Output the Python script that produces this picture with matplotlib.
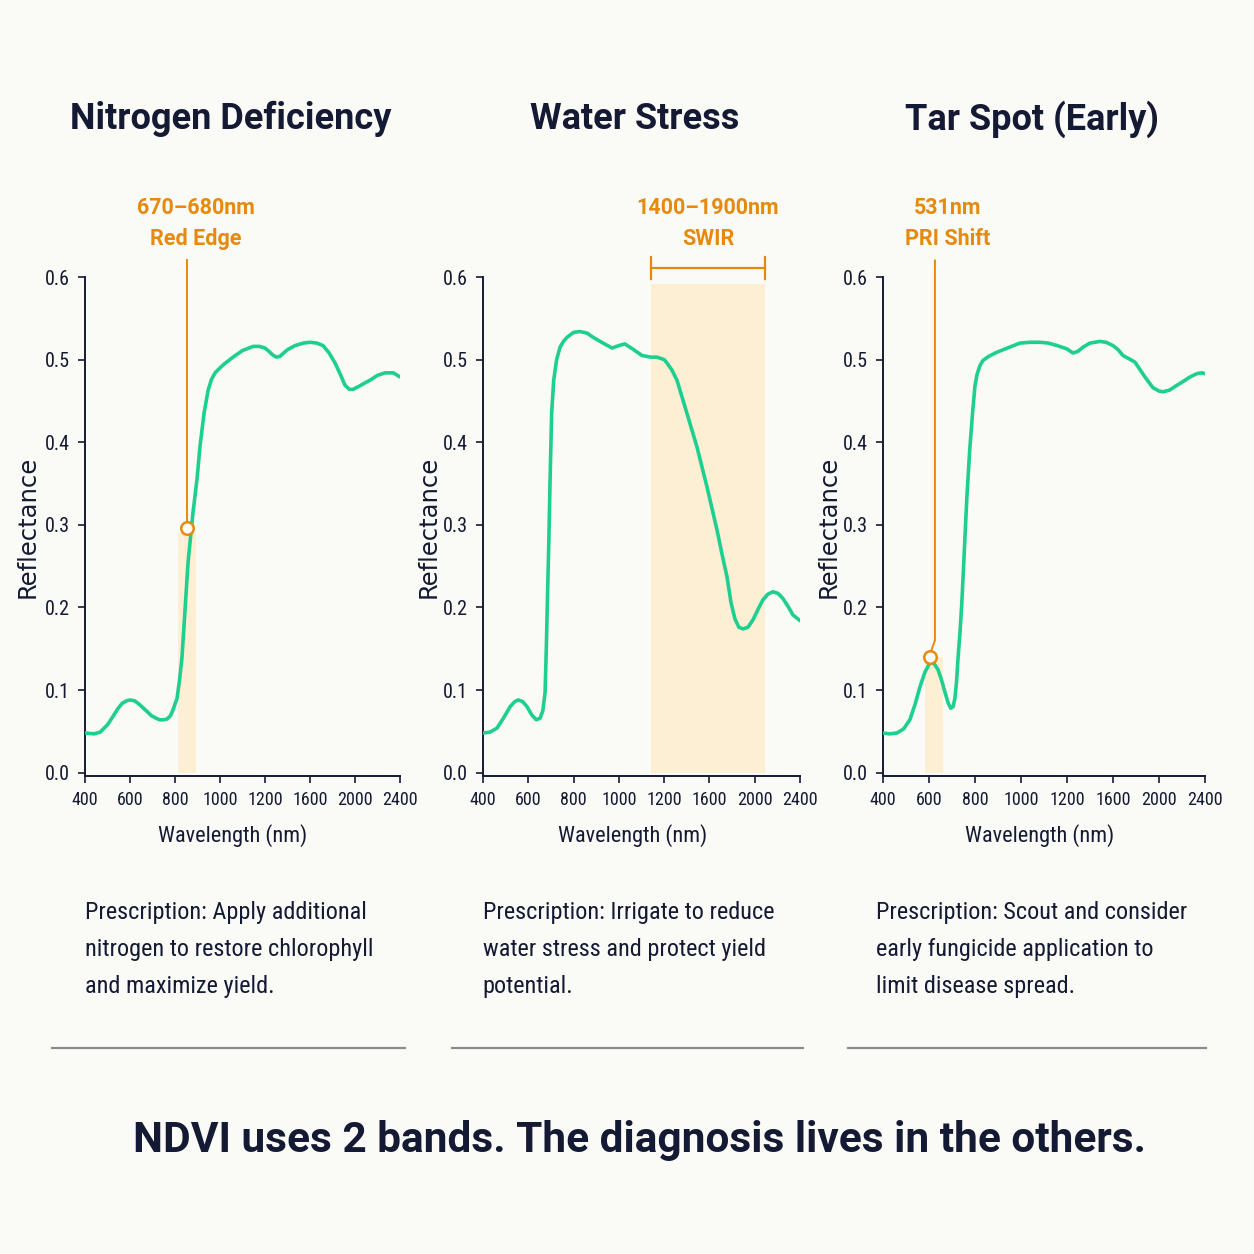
import numpy as np
import matplotlib
matplotlib.use("Agg")
import matplotlib.pyplot as plt
from matplotlib.lines import Line2D
from matplotlib import font_manager

# --- data -----------------------------------------------------------------
tick_nm = [400, 600, 800, 1000, 1200, 1600, 2000, 2400]
tick_labels = [str(t) for t in tick_nm]
yticks = [0.0, 0.1, 0.2, 0.3, 0.4, 0.5, 0.6]

titles = ["Nitrogen Deficiency", "Water Stress", "Tar Spot (Early)"]
band_labels = ["670\u2013680nm\nRed Edge", "1400\u20131900nm\nSWIR", "531nm\nPRI Shift"]
prescriptions = [
    "Prescription: Apply additional\nnitrogen to restore chlorophyll\nand maximize yield.",
    "Prescription: Irrigate to reduce\nwater stress and protect yield\npotential.",
    "Prescription: Scout and consider\nearly fungicide application to\nlimit disease spread.",
]
caption = "NDVI uses 2 bands. The diagnosis lives in the others."

nitro_nm = [400, 440, 467, 500, 524, 545, 565, 585, 600, 620, 640, 660, 676, 695,
            715, 732, 747, 765, 780, 791, 809, 820, 831, 844, 858, 880, 898, 911,
            929, 947, 962, 978, 1000, 1020, 1058, 1100, 1147, 1175, 1200, 1235,
            1265, 1300, 1333, 1365, 1400, 1467, 1540, 1600, 1660, 1716, 1770, 1822,
            1870, 1911, 1950, 1982, 2040, 2090, 2133, 2200, 2267, 2340, 2400]
nitro_r = [0.048, 0.047, 0.049, 0.058, 0.068, 0.077, 0.084, 0.087, 0.088, 0.087,
           0.083, 0.078, 0.074, 0.069, 0.066, 0.064, 0.064, 0.065, 0.069, 0.076,
           0.090, 0.112, 0.140, 0.195, 0.255, 0.315, 0.356, 0.395, 0.435, 0.463,
           0.476, 0.484, 0.490, 0.495, 0.503, 0.511, 0.516, 0.516, 0.514, 0.510,
           0.506, 0.503, 0.504, 0.508, 0.512, 0.517, 0.520, 0.521, 0.520, 0.517,
           0.508, 0.496, 0.482, 0.469, 0.464, 0.464, 0.468, 0.472, 0.475, 0.481,
           0.484, 0.484, 0.479]

water_nm = [400, 430, 462, 490, 520, 540, 555, 575, 594, 615, 635, 652, 664, 674,
            680, 685, 690, 696, 703, 712, 725, 740, 755, 771, 800, 828, 860, 886,
            930, 970, 1000, 1026, 1060, 1102, 1140, 1168, 1200, 1224, 1270, 1313,
            1401, 1490, 1578, 1666, 1710, 1755, 1790, 1825, 1860, 1896, 1940, 1984,
            2030, 2071, 2115, 2160, 2205, 2248, 2295, 2337, 2400]
water_r = [0.048, 0.049, 0.054, 0.066, 0.080, 0.086, 0.088, 0.086, 0.080, 0.070,
           0.064, 0.066, 0.075, 0.097, 0.157, 0.218, 0.273, 0.354, 0.435, 0.475,
           0.500, 0.515, 0.522, 0.527, 0.533, 0.534, 0.532, 0.527, 0.520, 0.514,
           0.517, 0.519, 0.513, 0.505, 0.503, 0.503, 0.500, 0.496, 0.487, 0.475,
           0.435, 0.394, 0.346, 0.294, 0.265, 0.237, 0.206, 0.186, 0.176, 0.174,
           0.176, 0.185, 0.198, 0.209, 0.216, 0.219, 0.217, 0.211, 0.201, 0.191,
           0.184]

tar_nm = [400, 430, 461, 490, 517, 540, 561, 583, 604, 622, 639, 655, 670, 684,
          695, 705, 713, 720, 726, 735, 743, 752, 765, 778, 791, 800, 809, 822,
          835, 860, 896, 950, 996, 1040, 1083, 1120, 1157, 1200, 1252, 1295, 1339,
          1400, 1487, 1540, 1600, 1645, 1687, 1740, 1791, 1830, 1878, 1948, 2000,
          2035, 2090, 2157, 2215, 2270, 2330, 2374, 2400]
tar_r = [0.048, 0.047, 0.048, 0.053, 0.064, 0.083, 0.104, 0.122, 0.133, 0.132,
         0.125, 0.112, 0.097, 0.084, 0.078, 0.080, 0.090, 0.110, 0.137, 0.170,
         0.206, 0.258, 0.334, 0.394, 0.440, 0.468, 0.482, 0.493, 0.499, 0.504,
         0.509, 0.515, 0.520, 0.521, 0.521, 0.520, 0.517, 0.513, 0.508, 0.510,
         0.515, 0.520, 0.522, 0.521, 0.517, 0.512, 0.505, 0.501, 0.497, 0.489,
         0.479, 0.466, 0.462, 0.461, 0.463, 0.469, 0.474, 0.479, 0.483, 0.484,
         0.483]

curves = [(nitro_nm, nitro_r), (water_nm, water_r), (tar_nm, tar_r)]
bands = [(813, 893, 0.29), (1142, 2091, 0.591), (583, 661, 0.14)]
markers = [(853, 0.296), None, (604, 0.140)]

# --- style ----------------------------------------------------------------
BG = "#fafaf7"
NAVY = "#141a33"
GREEN = "#1ecf8f"
ORANGE = "#e68a0e"
BAND = "#fcefd4"
plt.rcParams["font.family"] = ["Roboto", "DejaVu Sans"]

names = {f.name for f in font_manager.fontManager.ttflist}
COND = [n for n in ("Roboto Condensed", "Liberation Sans Narrow") if n in names]
COND = COND + ["Roboto", "DejaVu Sans"]

idx = np.arange(len(tick_nm))


def fwd(x):
    return np.interp(x, tick_nm, idx)


def inv(x):
    return np.interp(x, idx, tick_nm)


fig = plt.figure(figsize=(12.54, 12.54), dpi=100, facecolor=BG)

axes_rects = [
    [0.0678, 0.3812, 0.2512, 0.3979],
    [0.3852, 0.3812, 0.2528, 0.3979],
    [0.7041, 0.3812, 0.2568, 0.3979],
]
title_x = [0.184, 0.506, 0.823]
presc_x = [0.0678, 0.385, 0.6986]
xlabel_x = [0.47, 0.473, 0.488]
ylabel_x = [-0.145, -0.135, -0.13]
rules = [(0.0415, 0.323), (0.3604, 0.6404), (0.676, 0.9617)]

for i, rect in enumerate(axes_rects):
    ax = fig.add_axes(rect)
    ax.set_facecolor(BG)
    ax.set_xscale("function", functions=(fwd, inv))
    ax.set_xlim(400, 2400)
    ax.set_ylim(-0.004, 0.6)

    lo, hi, top = bands[i]
    ax.fill_between([lo, hi], 0, top, color=BAND, lw=0, zorder=1)

    wl, refl = curves[i]
    ax.plot(wl, refl, color=GREEN, lw=2.6, zorder=3, solid_capstyle="round",
            solid_joinstyle="round")

    if i == 1:
        # bracket over the SWIR band
        ax.plot([lo, hi], [0.611, 0.611], color=ORANGE, lw=1.6, clip_on=False)
        for xe in (lo, hi):
            ax.plot([xe, xe], [0.598, 0.624], color=ORANGE, lw=1.6, clip_on=False)
        tx = inv((fwd(lo) + fwd(hi)) / 2)
    else:
        mx, my = markers[i]
        if i == 0:
            ax.plot([mx, mx], [my + 0.008, 0.62], color=ORANGE, lw=1.4,
                    clip_on=False, zorder=4)
            tx = inv(fwd(mx) + 0.2)
        else:
            kx = inv(fwd(mx) + 0.11)
            ax.plot([mx + 5, kx, kx], [my + 0.007, 0.16, 0.62], color=ORANGE,
                    lw=1.4, clip_on=False, zorder=4)
            tx = inv(fwd(mx) + 0.38)
        ax.plot(mx, my, "o", ms=9, mfc="white", mec=ORANGE, mew=1.8, zorder=5)
    ax.text(tx, 0.665, band_labels[i], color=ORANGE, fontsize=15.5,
            fontweight="bold", ha="center", va="center", linespacing=1.55)

    ax.set_xticks(tick_nm)
    ax.set_xticklabels(tick_labels, family=COND, fontsize=13)
    ax.set_yticks(yticks)
    ax.set_yticklabels(["%.1f" % v for v in yticks], family=COND, fontsize=14.5)
    ax.minorticks_off()
    for s in ("top", "right"):
        ax.spines[s].set_visible(False)
    for s in ("left", "bottom"):
        ax.spines[s].set_color(NAVY)
        ax.spines[s].set_linewidth(1.4)
    ax.tick_params(colors=NAVY, length=5, width=1.2, pad=6)
    ax.set_xlabel("Wavelength (nm)", fontsize=16, color=NAVY, family=COND)
    ax.xaxis.set_label_coords(xlabel_x[i], -0.12)
    ax.xaxis.label.set_va("center")
    ax.set_ylabel("Reflectance", fontsize=17.5, color=NAVY,
                  family=["DejaVu Sans"])
    ax.yaxis.set_label_coords(ylabel_x[i], 0.5)

    fig.text(title_x[i], 0.905, titles[i], fontsize=26, fontweight="bold",
             color=NAVY, ha="center", va="center")
    fig.text(presc_x[i], 0.243, prescriptions[i], fontsize=17.5, color=NAVY,
             ha="left", va="center", linespacing=1.78, family=COND)
    fig.add_artist(Line2D(rules[i], [0.1643, 0.1643], color="#8c8c8c", lw=1.6))

fig.text(0.51, 0.0909, caption, fontsize=30.5, fontweight="bold", color=NAVY,
         ha="center", va="center")

fig.savefig("out.png", dpi=100, facecolor=BG)
